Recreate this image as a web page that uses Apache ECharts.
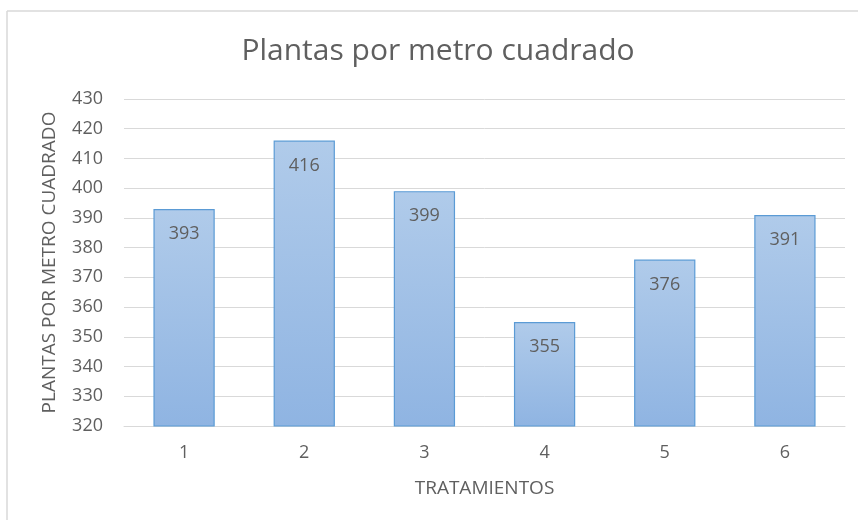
<!DOCTYPE html>
<html>
<head>
<meta charset="utf-8">
<script src="https://cdn.jsdelivr.net/npm/echarts@6/dist/echarts.min.js"></script>
<style>
  html, body { margin: 0; padding: 0; background: #fff; }
  #chart { width: 858px; height: 520px; }
</style>
</head>
<body>
<div id="chart"></div>
<script>
// Tratamientos y plantas por metro cuadrado
const tratamientos = ['1', '2', '3', '4', '5', '6'];
const plantas = [393, 416, 399, 355, 376, 391];
const yMin = 320;
const yMax = 430;
const yStep = 10;

const textColor = '#5f5f5f';
const fontFamily = '"Open Sans", "Noto Sans", sans-serif';

const chart = echarts.init(document.getElementById('chart'), null, { renderer: 'canvas' });

chart.setOption({
  backgroundColor: '#ffffff',
  animation: false,
  title: {
    text: 'Plantas por metro cuadrado',
    left: 433,
    textAlign: 'center',
    top: 31,
    textStyle: { color: textColor, fontSize: 30, fontWeight: 'normal', fontFamily: fontFamily }
  },
  graphic: [
    { type: 'line', shape: { x1: 7, y1: 11, x2: 858, y2: 11 }, style: { stroke: '#d9d9d9', lineWidth: 1.5 } },
    { type: 'line', shape: { x1: 7, y1: 11, x2: 7, y2: 520 }, style: { stroke: '#d9d9d9', lineWidth: 1.5 } }
  ],
  grid: { left: 124, right: 13, top: 99, bottom: 94, containLabel: false },
  xAxis: {
    type: 'category',
    data: tratamientos,
    name: 'TRATAMIENTOS',
    nameLocation: 'middle',
    nameGap: 53,
    nameTextStyle: { color: textColor, fontSize: 19, fontFamily: fontFamily },
    axisLine: { lineStyle: { color: '#d9d9d9', width: 1 } },
    axisTick: { show: false },
    axisLabel: { color: textColor, fontSize: 18, margin: 18, fontFamily: fontFamily }
  },
  yAxis: {
    type: 'value',
    min: yMin,
    max: yMax,
    interval: yStep,
    name: 'PLANTAS POR METRO CUADRADO',
    nameLocation: 'middle',
    nameGap: 65,
    nameRotate: 90,
    nameTextStyle: { color: textColor, fontSize: 19, fontFamily: fontFamily },
    axisLine: { show: false },
    axisTick: { show: false },
    axisLabel: { color: textColor, fontSize: 18, margin: 21, fontFamily: fontFamily },
    splitLine: { lineStyle: { color: '#d9d9d9', width: 1 } }
  },
  series: [{
    type: 'bar',
    data: plantas,
    barWidth: '51%',
    itemStyle: {
      color: new echarts.graphic.LinearGradient(0, 0, 0, 1, [
        { offset: 0, color: '#b0cbea' },
        { offset: 1, color: '#8fb4e2' }
      ]),
      borderColor: '#5b9bd5',
      borderWidth: 1.2
    },
    label: {
      show: true,
      position: 'insideTop',
      distance: 16,
      color: textColor,
      fontSize: 18,
      fontFamily: fontFamily
    }
  }]
});
</script>
</body>
</html>
